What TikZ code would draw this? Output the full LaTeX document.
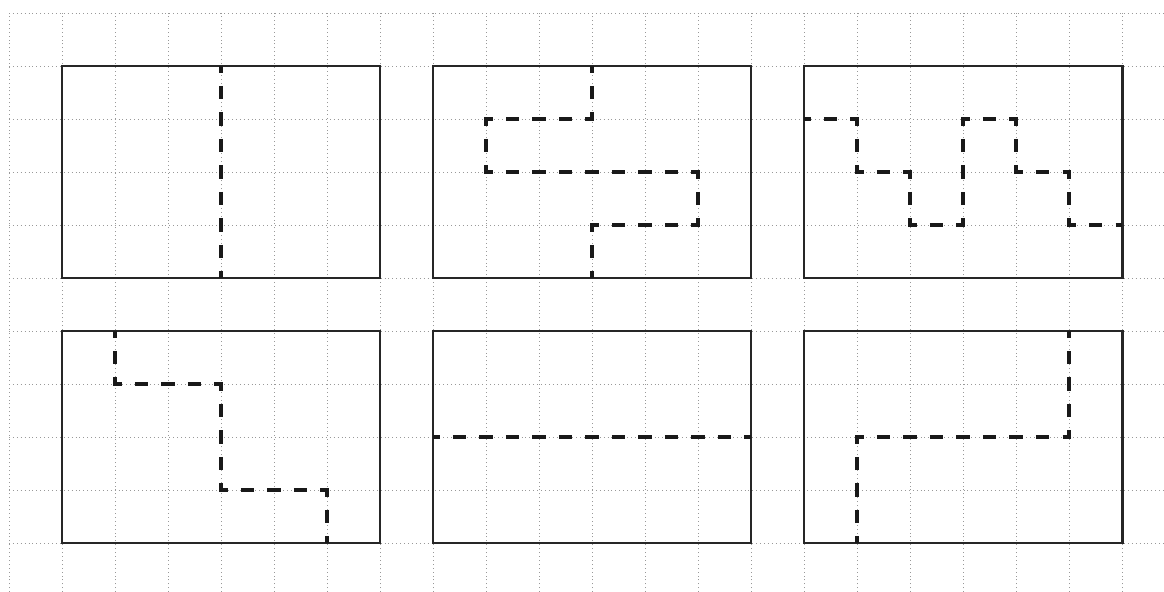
\documentclass[tikz,border=0pt]{standalone}
\begin{document}
\begin{tikzpicture}[x=1cm,y=1cm,
  gridline/.style={gray!80, line width=0.4pt, dash pattern=on 0.5pt off 1.6pt},
  frame/.style={draw=black!85, line width=1.5pt},
  cut/.style={draw=black!90, line width=2pt, dash pattern=on 0.25cm off 0.25cm, dash phase=0.125cm}]
\useasboundingbox (-1.17,-0.906) rectangle (20.79,10.245);
\clip (-1.17,-0.906) rectangle (20.79,10.245);
% grid
\foreach \x in {-1,...,20} \draw[gridline] (\x,-1) -- (\x,10);
\foreach \y in {-1,...,10} \draw[gridline] (-1,\y) -- (21,\y);
% frames
\foreach \x in {0,7,14} {
  \draw[frame] (\x,5) rectangle ++(6,4);
  \draw[frame] (\x,0) rectangle ++(6,4);
}
% cuts
\draw[cut] (3,9) -- (3,5);
\draw[cut] (10,9) -- (10,8) -- (8,8) -- (8,7) -- (12,7) -- (12,6) -- (10,6) -- (10,5);
\draw[cut] (14,8) -- (15,8) -- (15,7) -- (16,7) -- (16,6) -- (17,6) -- (17,8) -- (18,8) -- (18,7) -- (19,7) -- (19,6) -- (20,6);
\draw[cut] (1,4) -- (1,3) -- (3,3) -- (3,1) -- (5,1) -- (5,0);
\draw[cut] (7,2) -- (13,2);
\draw[cut] (15,0) -- (15,2) -- (19,2) -- (19,4);
\end{tikzpicture}
\end{document}
